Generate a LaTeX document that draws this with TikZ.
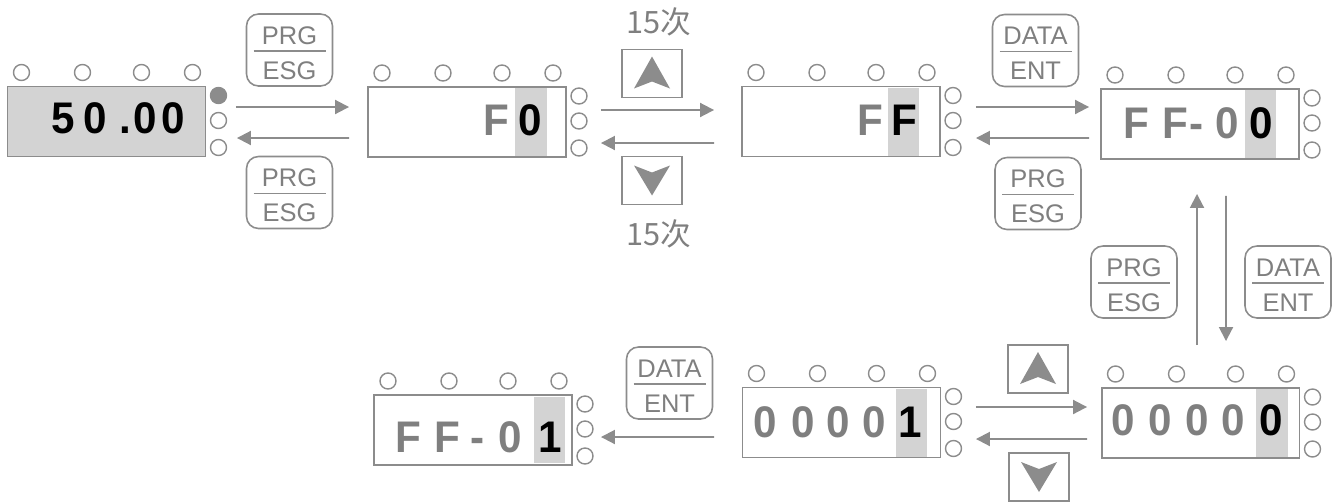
\documentclass[tikz,border=0pt]{standalone}
\usepackage{fontspec}
\setmainfont{Liberation Sans}
\newfontfamily\cjk{Noto Sans CJK SC}
\usetikzlibrary{positioning}
\usetikzlibrary{calc}
\usetikzlibrary{arrows.meta}
\definecolor{linegray}{HTML}{8C8C8C}
\definecolor{txtgray}{HTML}{7F7F7F}
\definecolor{lcdfill}{HTML}{D3D3D3}
\tikzset{
	every node/.style = {inner sep=0pt},
	lcd/.style = {draw=linegray, line width=1.1pt, minimum width=3.96cm, minimum height=1.4cm},
	led/.style = {draw=linegray, line width=0.8pt},
	hl/.style = {fill=lcdfill},
	dg/.style = {font=\fontsize{24}{28}\selectfont\bfseries, text=txtgray, anchor=base, yscale=1.05},
	dgk/.style = {dg, text=black},
	key/.style = {draw=linegray, line width=0.9pt, rounded corners=0.24cm, minimum width=1.72cm, minimum height=1.44cm},
	keytxt/.style = {font=\fontsize{14.5}{16}\selectfont, text=txtgray, anchor=base},
	btn/.style = {draw=linegray, line width=1pt, minimum width=1.2cm, minimum height=0.96cm},
	arr/.style = {draw=linegray, line width=1.1pt, -{Triangle[length=0.28cm,width=0.28cm]}},
	cnt/.style = {font=\cjk\fontsize{17.5}{20}\selectfont, text=txtgray}
}
% leds round a display
\newcommand\leds[1]{%
	\begin{scope}[shift={(#1.center)}]
		\foreach \lx in {-85,-24,35,86} \draw[led] (\lx,-49) circle[radius=0.16cm];
		\foreach \ly in {-26,-1,26} \draw[led] (112,\ly) circle[radius=0.16cm];
	\end{scope}}
% two-line key
\newcommand\keycap[4]{%
	\node[key] (#1) at (#2) {};
	\node[keytxt] (#1a) at ($(#1.center)+(0,-6)$) {#3};
	\draw[linegray, line width=0.9pt] ($(#1.center)+(-36,1)$) -- ($(#1.center)+(36,1)$);
	\node[keytxt] (#1b) at ($(#1.center)+(0,29)$) {#4};}
% arrow keys
\newcommand\upkey[2]{%
	\node[btn] (#1) at (#2) {};
	\fill[linegray, shift={(#1.center)}] (0,-17) -- (18,15) -- (0,8) -- (-18,15) -- cycle;}
\newcommand\downkey[2]{%
	\node[btn] (#1) at (#2) {};
	\fill[linegray, shift={(#1.center)}] (0,15) -- (18,-15) -- (0,-8) -- (-18,-15) -- cycle;}

\begin{document}
\begin{tikzpicture}[x=0.02cm, y=-0.02cm]
		\useasboundingbox (0,0) rectangle (1341,501);
		
		% displays
		\node[lcd, fill=lcdfill] (d1) at (106.5,121.5) {};
		\node[lcd] (d2) at (467,122) {};
		\node[lcd] (d3) at (841,121.5) {};
		\node[lcd] (d4) at (1200,124) {};
		\node[lcd] (d5) at (1200.5,423) {};
		\node[lcd] (d6) at (841.5,422.5) {};
		\node[lcd] (d7) at (473,430) {};
		\foreach \d in {d1,d2,d3,d4,d5,d6,d7} \leds{\d};
		\fill[linegray] ($(d1.center)+(112,-26)$) circle[radius=0.16cm];
		
		% blinking digit
		\fill[hl] ($(d2.center)+(48,-34)$) rectangle ($(d2.center)+(80,34)$);
		\fill[hl] ($(d3.center)+(47,-34)$) rectangle ($(d3.center)+(78,34)$);
		\fill[hl] ($(d4.center)+(45,-34)$) rectangle ($(d4.center)+(76,34)$);
		\fill[hl] ($(d5.center)+(55.5,-34)$) rectangle ($(d5.center)+(87.5,34)$);
		\fill[hl] ($(d6.center)+(54.5,-34)$) rectangle ($(d6.center)+(85.5,34)$);
		\fill[hl] ($(d7.center)+(61,-33)$) rectangle ($(d7.center)+(92,33)$);
		
		% texts
		\foreach \c/\x [count=\k] in {5/63, 0/95, ./125, 0/145, 0/173}
			\node[dgk] (d1c\k) at (\x,133) {\c};
		\node[dg] (d2c1) at (496,135) {F};
		\node[dgk] (d2c2) at (530,135) {0};
		\node[dg] (d3c1) at (870,135) {F};
		\node[dgk] (d3c2) at (904,135) {F};
		\foreach \c/\x [count=\k] in {F/1136, F/1175, -/1197, 0/1227}
			\node[dg] (d4c\k) at (\x,138) {\c};
		\node[dgk] (d4c5) at (1261,138) {0};
		\foreach \x [count=\k] in {1123, 1160, 1197, 1233}
			\node[dg] (d5c\k) at (\x,435) {0};
		\node[dgk] (d5c5) at (1271,435) {0};
		\foreach \x [count=\k] in {765, 803, 838, 874}
			\node[dg] (d6c\k) at (\x,437) {0};
		\node[dgk] (d6c5) at (910,437) {1};
		\foreach \c/\x [count=\k] in {F/408, F/447, -/478, 0/510}
			\node[dg] (d7c\k) at (\x,452) {\c};
		\node[dgk] (d7c5) at (550,452) {1};
		
		% keys
		\keycap{k1}{289.5,50}{PRG}{ESG}
		\keycap{k2}{289.5,192.5}{PRG}{ESG}
		\keycap{k3}{1035.5,50.5}{DATA}{ENT}
		\keycap{k4}{1038,193.5}{PRG}{ESG}
		\keycap{k5}{1134,282}{PRG}{ESG}
		\keycap{k6}{1288,282}{DATA}{ENT}
		\keycap{k7}{669.5,383}{DATA}{ENT}
		\upkey{u1}{652,73.5}
		\downkey{v1}{652,180.5}
		\upkey{u2}{1038,369}
		\downkey{v2}{1039,477}
		\node[cnt] (n1) at (659,22) {15次};
		\node[cnt] (n2) at (659,234) {15次};
		
		% arrows
		\draw[arr] ($(d1.east)+(29.5,-14.5)$) -- ($(d2.west)+(-18,-15)$);
		\draw[arr] ($(d2.west)+(-18,16)$) -- ($(d1.east)+(30.5,16.5)$);
		\draw[arr] ($(d2.east)+(34,-12)$) -- ($(d3.west)+(-27,-11.5)$);
		\draw[arr] ($(d3.west)+(-27,21.5)$) -- ($(d2.east)+(34,21)$);
		\draw[arr] ($(d3.east)+(35,-14.5)$) -- ($(d4.west)+(-11,-17)$);
		\draw[arr] ($(d4.west)+(-11,14)$) -- ($(d3.east)+(35,16.5)$);
		\draw[arr] ($(d5.north)+(-3.5,-42)$) -- ($(d4.south)+(-3,34)$);
		\draw[arr] ($(d4.south)+(26,36)$) -- ($(d5.north)+(25.5,-46)$);
		\draw[arr] ($(d6.east)+(34.5,-15.5)$) -- ($(d5.west)+(-13.5,-16)$);
		\draw[arr] ($(d5.west)+(-13.5,16)$) -- ($(d6.east)+(34.5,16.5)$);
		\draw[arr] ($(d6.west)+(-27.5,14.5)$) -- ($(d7.east)+(28,7)$);
	\end{tikzpicture}
\end{document}
